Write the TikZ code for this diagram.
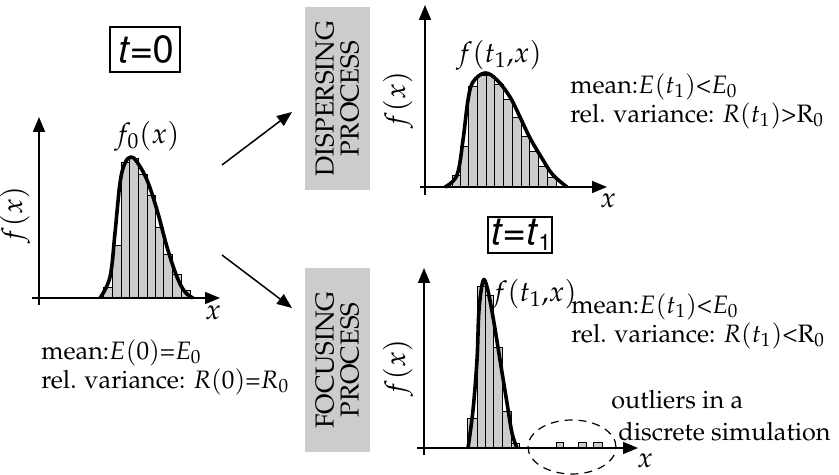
\documentclass[tikz,border=0pt]{standalone}
\usepackage[T1]{fontenc}
\usepackage{mathpazo}
\usepackage[scaled=0.95]{helvet}
\usepackage{tikz}
\usetikzlibrary{arrows.meta,shapes.geometric}
\tikzset{
	axis/.style={line width=0.75pt, -{Triangle[length=7.5pt,width=6pt]}},
	bar/.style={draw=black, line width=0.35pt, fill=black!20},
	curve/.style={line width=1.8pt, line join=round},
	mlabel/.style={font=\fontsize{14.2}{16}\selectfont},
	timebox/.style={draw, line width=0.8pt, inner sep=0pt, font=\fontsize{20}{22}\sffamily},
	procbox/.style={fill=black!20, rotate=90, align=center, inner sep=0pt, font=\fontsize{13}{12.5}\selectfont}
}

\begin{document}
\begin{tikzpicture}[x=0.5pt, y=-0.5pt, font=\fontsize{12.6}{14.5}\selectfont]
			%%%%% START %%%%%
			\useasboundingbox (0,0) rectangle (839,475);
			
			% t = 0
			\draw[bar] (103,298) rectangle (112,287);
			\draw[bar] (112,298) rectangle (121,245);
			\draw[bar] (121,298) rectangle (129,162);
			\draw[bar] (129,298) rectangle (138,158);
			\draw[bar] (138,298) rectangle (147,174);
			\draw[bar] (147,298) rectangle (155,195);
			\draw[bar] (155,298) rectangle (163,227);
			\draw[bar] (163,298) rectangle (172,254);
			\draw[bar] (172,298) rectangle (181,274);
			\draw[bar] (181,298) rectangle (190,290);
			\draw[curve] plot[smooth, tension=0.6] coordinates {(100,298) (110,277) (115,233) (120,183) (125,163) (131,157) (137,162) (147,180) (157,210) (167,247) (177,277) (185,292) (193,298)};
			\draw[axis] (32,298) -- (220,298);
			\draw[axis] (39,305) -- (39,117);
			\node[mlabel] (xzero) at (213,313) {$x$};
			\node[mlabel, rotate=90] (fxzero) at (15,215) {$f(x)$};
			\node[mlabel] (fzero) at (147,136) {$f_0(x)$};
			\node[timebox, minimum width=35pt, minimum height=22.5pt] (tzero) at (145,49.5) {\textit{t}=0};
			\node[anchor=west, align=left, inner sep=0pt] (statzero) at (41,367.5) {mean:$E(0)$=$E_0$\\rel. variance: $R(0)$=$R_0$};
			
			% processes
			\node[procbox, minimum width=91.5pt, minimum height=32.5pt] (dispbox) at (337.5,98.5) {DISPERSING\\PROCESS};
			\node[procbox, minimum width=92pt, minimum height=32.5pt] (focbox) at (337.5,360) {FOCUSING\\PROCESS};
			\coordinate (dispfrom) at (222,165);
			\coordinate (dispto) at (292,112);
			\coordinate (focfrom) at (222,255);
			\coordinate (focto) at (292,308);
			\draw[axis] (dispfrom) -- (dispto);
			\draw[axis] (focfrom) -- (focto);
			
			% dispersing, t = t1
			\draw[bar] (452,187) rectangle (460,175);
			\draw[bar] (460,187) rectangle (468,146);
			\draw[bar] (468,187) rectangle (477,86);
			\draw[bar] (477,187) rectangle (486,75);
			\draw[bar] (486,187) rectangle (494,75);
			\draw[bar] (494,187) rectangle (503,84);
			\draw[bar] (503,187) rectangle (512,99);
			\draw[bar] (512,187) rectangle (521,117);
			\draw[bar] (521,187) rectangle (529,136);
			\draw[bar] (529,187) rectangle (538,151);
			\draw[bar] (538,187) rectangle (547,166);
			\draw[bar] (547,187) rectangle (556,177);
			\draw[curve] plot[smooth, tension=0.6] coordinates {(445,187) (457,175) (463,140) (468,100) (473,82) (485,73) (497,80) (510,97) (520,117) (530,138) (543,160) (553,175) (567,187)};
			\draw[axis] (420,187) -- (607,187);
			\draw[axis] (425,195) -- (425,5);
			\node[mlabel] (xdisp) at (608,201) {$x$};
			\node[mlabel, rotate=90] (fxdisp) at (398,100) {$f(x)$};
			\node[mlabel] (fdisp) at (499,55) {$f(t_1{,}x)$};
			\node[anchor=west, align=left, inner sep=0pt] (statdisp) at (570,101) {mean:$E(t_1)$<$E_0$\\rel. variance: $R(t_1)$>R$_0$};
			
			\node[timebox, minimum width=32pt, minimum height=18pt] (tone) at (520,235) {\textit{t}=\kern-0.5pt\textit{t}\raisebox{-0.3ex}{\fontsize{12}{12}\selectfont 1}};
			
			% focusing, t = t1
			\draw[bar] (467,448) rectangle (477,418);
			\draw[bar] (477,448) rectangle (485,286);
			\draw[bar] (485,448) rectangle (493,295);
			\draw[bar] (493,448) rectangle (502,347);
			\draw[bar] (502,448) rectangle (511,411);
			\draw[bar] (511,448) rectangle (519,443);
			\draw[bar] (556,448) rectangle (563,442);
			\draw[bar] (578,448) rectangle (586,442);
			\draw[bar] (593,448) rectangle (602,442);
			\draw[curve] plot[smooth, tension=0.6] coordinates {(468,448) (473,410) (477,360) (479,310) (483,281) (487,287) (493,317) (500,360) (507,403) (512,433) (517,448)};
			\draw[axis] (417,448) -- (638,448);
			\draw[axis] (424,455) -- (424,268);
			\node[mlabel] (xfoc) at (645,461) {$x$};
			\node[mlabel, rotate=90] (fxfoc) at (398,368) {$f(x)$};
			\node[mlabel] (ffoc) at (534,294) {$f(t_1{,}x)$};
			\node[anchor=west, align=left, inner sep=0pt] (statfoc) at (571,321) {mean:$E(t_1)$<$E_0$\\rel. variance: $R(t_1)$<R$_0$};
			\draw[line width=0.6pt, dash pattern=on 4pt off 3pt] (572,447) ellipse [x radius=22pt, y radius=13.5pt];
			\node[anchor=west, align=left, inner sep=0pt, font=\fontsize{12.6}{16}\selectfont] (outl) at (611,416) {outliers in a\\\hspace*{3.5pt}discrete simulation};
			
			%%%%% END %%%%%
		\end{tikzpicture}
\end{document}
